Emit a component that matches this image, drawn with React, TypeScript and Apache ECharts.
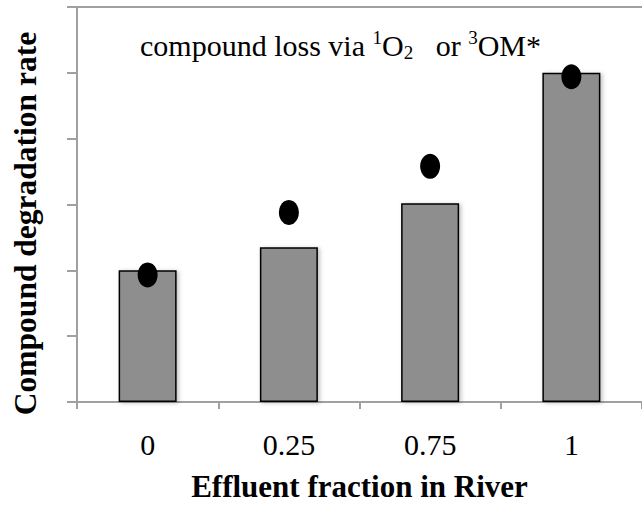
import React, { useEffect, useRef } from "react";
import * as echarts from "echarts";

const categories = ["0", "0.25", "0.75", "1"];
const barValues = [2.0, 2.35, 3.02, 5.0];
const dotValues = [1.93, 2.88, 3.58, 4.94];
const yMin = 0;
const yMax = 6;
const yInterval = 1;

const SERIF = "'Liberation Serif', 'Times New Roman', Times, serif";

export default function App() {
  const ref = useRef<HTMLDivElement>(null);
  useEffect(() => {
    const chart = echarts.init(ref.current!, null, { renderer: "svg" });
    chart.setOption({
      animation: false,
      backgroundColor: "#ffffff",
      textStyle: { fontFamily: SERIF },
      grid: { left: 77, right: 0, top: 7, bottom: 104, containLabel: false },
      xAxis: [
        {
          type: "category",
          data: categories,
          position: "bottom",
          axisLine: { show: true, lineStyle: { color: "#a0a0a0", width: 2 } },
          axisTick: { show: true, length: 7, lineStyle: { color: "#a0a0a0", width: 2 } },
          axisLabel: {
            color: "#000",
            fontFamily: SERIF,
            fontSize: 30,
            margin: 27,
          },
          name: "Effluent fraction in River",
          nameLocation: "middle",
          nameGap: 69,
          nameTextStyle: {
            color: "#000",
            fontFamily: SERIF,
            fontSize: 31,
            fontWeight: "bold",
          },
          splitLine: { show: false },
        },
        {
          type: "category",
          data: categories,
          position: "top",
          axisLine: { show: true, lineStyle: { color: "#a0a0a0", width: 2 } },
          axisTick: { show: false },
          axisLabel: { show: false },
          splitLine: { show: false },
        },
      ],
      yAxis: {
        type: "value",
        min: yMin,
        max: yMax,
        interval: yInterval,
        axisLine: { show: true, lineStyle: { color: "#a0a0a0", width: 2 } },
        axisTick: { show: true, inside: false, length: 10, lineStyle: { color: "#a0a0a0", width: 2 } },
        axisLabel: { show: false },
        splitLine: { show: false },
        name: "Compound degradation rate",
        nameLocation: "middle",
        nameGap: 36,
        nameTextStyle: {
          color: "#000",
          fontFamily: SERIF,
          fontSize: 31.5,
          fontWeight: "bold",
          padding: [0, 38, 0, 0],
        },
      },
      series: [
        {
          type: "bar",
          data: barValues,
          barWidth: 58,
          itemStyle: {
            color: "#8e8e8e",
            borderColor: "#000",
            borderWidth: 1.5,
            shadowColor: "rgba(0,0,0,0.25)",
            shadowBlur: 4,
            shadowOffsetX: 2,
            shadowOffsetY: 1,
          },
          z: 2,
        },
        {
          type: "scatter",
          data: dotValues,
          symbol: "circle",
          symbolSize: [20, 25],
          itemStyle: { color: "#000", opacity: 1 },
          z: 3,
        },
      ],
      graphic: [
        {
          type: "text",
          left: 140,
          top: 28,
          style: {
            text: "{n|compound loss via }{sup|1}{n|O}{sub|2}{n|   or }{sup|3}{n|OM*}",
            fill: "#000",
            fontFamily: SERIF,
            fontSize: 30,
            lineHeight: 34,
            rich: {
              n: {
                fontSize: 30,
                fontFamily: SERIF,
                lineHeight: 34,
                fill: "#000",
              },
              sup: {
                fontSize: 19,
                fontFamily: SERIF,
                verticalAlign: "top",
                lineHeight: 19,
                fill: "#000",
              },
              sub: {
                fontSize: 19,
                fontFamily: SERIF,
                verticalAlign: "bottom",
                lineHeight: 19,
                fill: "#000",
              },
            },
          },
        },
      ],
    });
    return () => chart.dispose();
  }, []);
  return <div ref={ref} style={{ width: 642, height: 507, position: "absolute", left: 0, top: 0 }} />;
}
